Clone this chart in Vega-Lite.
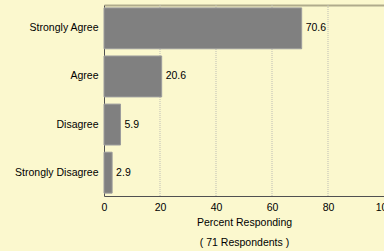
{
  "$schema": "https://vega.github.io/schema/vega-lite/v6.json",
  "autosize": "none",
  "width": 280,
  "height": 191,
  "padding": {"left": 104, "top": 5, "right": 0, "bottom": 55},
  "background": "#FBF8CE",
  "config": {
    "view": {"stroke": null},
    "font": "Liberation Sans",
    "axis": {"labelFont": "Liberation Sans", "titleFont": "Liberation Sans", "labelColor": "#000000", "titleColor": "#000000", "labelFontSize": 10.5, "titleFontSize": 10.5, "titleFontWeight": "normal"},
    "scale": {"bandPaddingInner": 0.15, "bandPaddingOuter": 0.06}
  },
  "data": {"values": [
    {"response": "Strongly Agree", "percent": 70.6},
    {"response": "Agree", "percent": 20.6},
    {"response": "Disagree", "percent": 5.9},
    {"response": "Strongly Disagree", "percent": 2.9}
  ]},
  "resolve": {"axis": {"x": "independent"}},
  "layer": [
    {
      "mark": {"type": "rule", "color": "#BDBDB5", "strokeDash": [1, 1], "strokeWidth": 1},
      "data": {"values": [{"g": 20}, {"g": 40}, {"g": 60}, {"g": 80}]},
      "encoding": {
        "x": {"field": "g", "type": "quantitative", "scale": {"domain": [0, 100], "nice": false},
          "axis": {"orient": "top", "labels": false, "ticks": false, "grid": false, "title": null, "domainColor": "#B0AB8C", "domainWidth": 2}}
      }
    },
    {
      "mark": {"type": "bar", "fill": "#808080", "stroke": "#9C9C9C", "strokeWidth": 1},
      "encoding": {
        "y": {"field": "response", "type": "nominal", "sort": null, "title": null,
          "axis": {"ticks": false, "labelPadding": 6, "domainColor": "#505050", "domainWidth": 1, "grid": false}},
        "x": {"field": "percent", "type": "quantitative", "scale": {"domain": [0, 100], "nice": false}, "title": ["Percent Responding", "( 71 Respondents )"],
          "axis": {"orient": "bottom", "values": [0, 20, 40, 60, 80, 100], "ticks": false, "labelPadding": 6, "domainColor": "#505050", "domainWidth": 1,
            "grid": false, "titlePadding": 5, "titleLineHeight": 20, "labelFlush": false}}
      }
    },
    {
      "mark": {"type": "text", "align": "left", "baseline": "middle", "dx": 4, "fontSize": 10.5, "color": "#000000", "font": "Liberation Sans"},
      "encoding": {
        "y": {"field": "response", "type": "nominal", "sort": null, "title": null},
        "text": {"field": "percent", "type": "quantitative", "format": ".1f"},
        "x": {"field": "percent", "type": "quantitative", "axis": null}
      }
    }
  ]
}
